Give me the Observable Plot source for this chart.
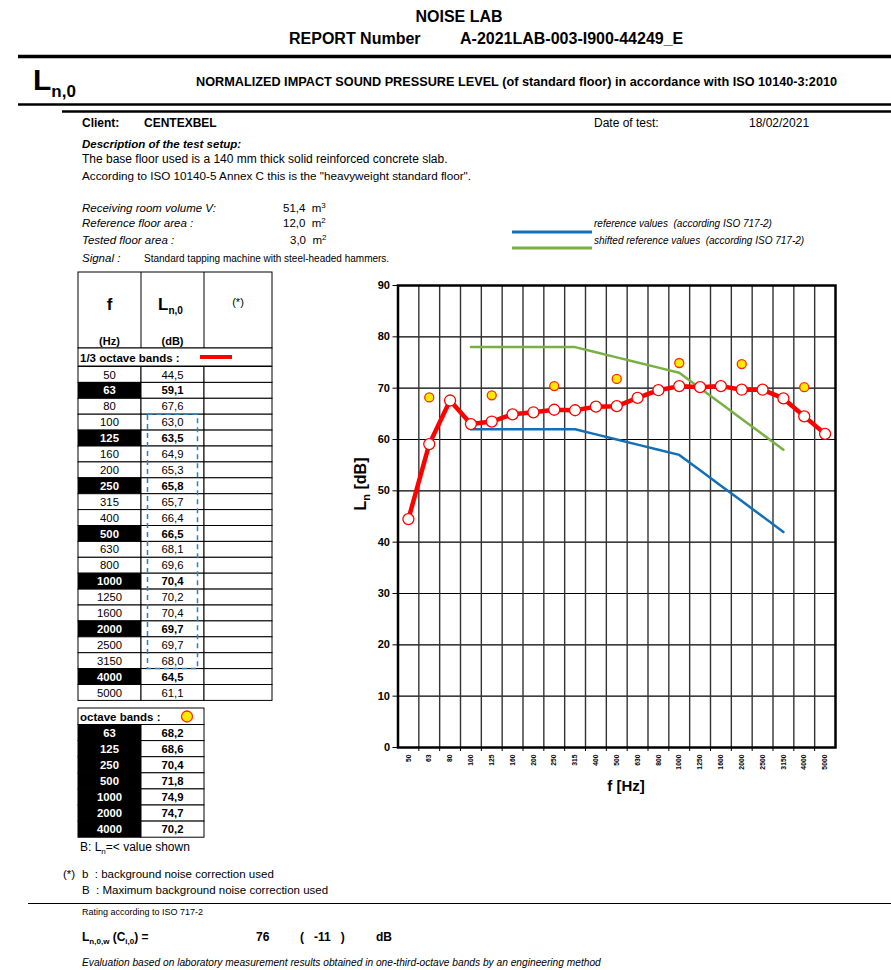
<!DOCTYPE html>
<html><head><meta charset="utf-8">
<script src="https://cdn.jsdelivr.net/npm/d3@7"></script>
<script src="https://cdn.jsdelivr.net/npm/@observablehq/plot@0.6"></script>
<style>
body{margin:0;background:#fff;}
#page{position:relative;width:891px;height:970px;overflow:hidden;background:#fff;}
#page svg text{font-family:"Liberation Sans",Arial,sans-serif;white-space:pre;}
</style></head><body><div id="page"></div>
<script>
// ---------- data ----------
const freqLabels = ["50","63","80","100","125","160","200","250","315","400","500","630","800","1000","1250","1600","2000","2500","3150","4000","5000"];
const lnValues = [44.5,59.1,67.6,63.0,63.5,64.9,65.3,65.8,65.7,66.4,66.5,68.1,69.6,70.4,70.2,70.4,69.7,69.7,68.0,64.5,61.1];
const octaveLabels = ["63","125","250","500","1000","2000","4000"];
const octaveValues = [68.2,68.6,70.4,71.8,74.9,74.7,70.2];
const refLabels = ["100","125","160","200","250","315","400","500","630","800","1000","1250","1600","2000","2500","3150"];
const refValues = [62,62,62,62,62,62,61,60,59,58,57,54,51,48,45,42];
const shiftedValues = [78,78,78,78,78,78,77,76,75,74,73,70,67,64,61,58];
const yTicks = [0,10,20,30,40,50,60,70,80,90];

const fmt = v => v.toFixed(1).replace(".", ",");

// ---------- page layer ----------
const page = d3.select("#page");
const svg = page.append("svg").attr("width", 891).attr("height", 970)
  .style("position","absolute").style("left","0px").style("top","0px");

function txt(x, y, parts, o = {}) {
  const t = svg.append("text").attr("x", x).attr("y", y)
    .attr("xml:space", "preserve")
    .attr("font-size", o.size || 12)
    .attr("font-weight", o.bold ? "bold" : "normal")
    .attr("font-style", o.italic ? "italic" : "normal")
    .attr("text-anchor", o.anchor || "start")
    .attr("fill", o.fill || "#000");
  if (o.rotate) t.attr("transform", `rotate(${o.rotate},${x},${y})`);
  if (typeof parts === "string") parts = [parts];
  let shift = 0;
  parts.forEach(p => {
    if (typeof p === "string") {
      const s = t.append("tspan").text(p);
      if (shift) { s.attr("dy", -shift); shift = 0; }
    } else {
      const d = p.dy - shift;
      t.append("tspan").attr("font-size", p.size).attr("dy", d).text(p.t);
      shift = p.dy;
    }
  });
  return t;
}
function line(x1, y1, x2, y2, w = 1, c = "#000", dash = null) {
  const l = svg.append("line").attr("x1", x1).attr("y1", y1).attr("x2", x2).attr("y2", y2)
    .attr("stroke", c).attr("stroke-width", w);
  if (dash) l.attr("stroke-dasharray", dash);
  return l;
}
function rect(x, y, w, h, fill, stroke = "#000", sw = 1) {
  return svg.append("rect").attr("x", x).attr("y", y).attr("width", w).attr("height", h)
    .attr("fill", fill).attr("stroke", stroke).attr("stroke-width", sw);
}

// header
txt(459, 22, "NOISE LAB", {bold: true, size: 16, anchor: "middle"});
txt(289, 44, "REPORT Number", {bold: true, size: 16});
txt(460, 44, "A-2021LAB-003-I900-44249_E", {bold: true, size: 16});
line(18, 56.5, 891, 56.5, 3.5);
txt(33, 90, ["L", {t: "n,0", size: 17, dy: 7}], {bold: true, size: 30});
txt(196, 86, "NORMALIZED IMPACT SOUND PRESSURE LEVEL (of standard floor) in accordance with ISO 10140-3:2010", {bold: true, size: 12.7});
line(18, 104.5, 891, 104.5, 2.5);
line(62, 111.5, 891, 111.5, 2.5);

// client block
txt(82, 127, "Client:", {bold: true, size: 12});
txt(144, 127, "CENTEXBEL", {bold: true, size: 12});
txt(594, 127, "Date of test:", {size: 12});
txt(749, 127, "18/02/2021", {size: 12});
txt(82, 148, "Description of the test setup:", {bold: true, italic: true, size: 11.5});
txt(82, 163, "The base floor used is a 140 mm thick solid reinforced concrete slab.", {size: 12});
txt(82, 180, "According to ISO 10140-5 Annex C this is the \"heavyweight standard floor\".", {size: 11.7});
txt(82, 212, "Receiving room volume V:", {italic: true, size: 11.5});
txt(283, 212, ["51,4  m", {t: "3", size: 8, dy: -4}], {size: 11.5});
txt(82, 227, "Reference floor area :", {italic: true, size: 11.5});
txt(283, 227, ["12,0  m", {t: "2", size: 8, dy: -4}], {size: 11.5});
txt(82, 244, "Tested floor area :", {italic: true, size: 11.5});
txt(290, 244, ["3,0  m", {t: "2", size: 8, dy: -4}], {size: 11.5});
txt(82, 262, "Signal :", {italic: true, size: 11.5});
txt(144, 262, "Standard tapping machine with steel-headed hammers.", {size: 10});

// legend
line(512, 232, 592, 232, 3, "#1170b8");
line(512, 248, 592, 248, 3, "#78b044");
txt(594, 227, "reference values  (according ISO 717-2)", {italic: true, size: 10});
txt(594, 244, "shifted reference values  (according ISO 717-2)", {italic: true, size: 10});

// ---------- table (1/3 octave) ----------
const cx = [78, 141, 204, 272];
const c1 = (cx[0] + cx[1]) / 2, c2 = (cx[1] + cx[2]) / 2, c3 = (cx[2] + cx[3]) / 2;
rect(cx[0], 272, cx[3] - cx[0], 76, "#fff");
line(cx[1], 272, cx[1], 348); line(cx[2], 272, cx[2], 348);
txt(c1, 310, "f", {bold: true, size: 17, anchor: "middle"});
txt(c2 - 2, 310, ["L", {t: "n,0", size: 10, dy: 4}], {bold: true, size: 17, anchor: "middle"});
txt(c3, 306, "(*)", {size: 11, anchor: "middle"});
txt(c1, 345, "(Hz)", {bold: true, size: 11, anchor: "middle"});
txt(c2, 345, "(dB)", {bold: true, size: 11, anchor: "middle"});
rect(cx[0], 348, cx[3] - cx[0], 18, "#fff");
txt(80, 361.5, "1/3 octave bands :", {bold: true, size: 11.5});
line(200, 357, 232, 357, 4, "#ff0000");

const rowTop = 366.5, rowH = 15.9;
freqLabels.forEach((f, i) => {
  const y0 = rowTop + rowH * i;
  const oct = octaveLabels.includes(f);
  rect(cx[0], y0, cx[1] - cx[0], rowH, oct ? "#000" : "#fff");
  rect(cx[1], y0, cx[2] - cx[1], rowH, "#fff");
  rect(cx[2], y0, cx[3] - cx[2], rowH, "#fff");
  txt(c1, y0 + 12, f, {size: 11.3, bold: oct, anchor: "middle", fill: oct ? "#fff" : "#000"});
  txt(c2, y0 + 12, fmt(lnValues[i]), {size: 11.3, bold: oct, anchor: "middle"});
});
// dashed box 100..3150
{
  const a = freqLabels.indexOf("100"), b = freqLabels.indexOf("3150");
  svg.append("rect").attr("x", 147.5).attr("y", rowTop + rowH * a)
    .attr("width", 50).attr("height", rowH * (b - a + 1))
    .attr("fill", "none").attr("stroke", "#2a82c4").attr("stroke-width", 1.5)
    .attr("stroke-dasharray", "5,4");
}

// ---------- octave table ----------
const oTop = 708, oHead = 16.5, oRow = 16.1;
rect(cx[0], oTop, cx[2] - cx[0], oHead, "#fff");
txt(80, oTop + 12.5, "octave bands :", {bold: true, size: 11.5});
svg.append("circle").attr("cx", 187).attr("cy", oTop + 8.5).attr("r", 5.5)
  .attr("fill", "#ffea00").attr("stroke", "#ff2a00").attr("stroke-width", 1.3);
octaveLabels.forEach((f, k) => {
  const y0 = oTop + oHead + oRow * k;
  rect(cx[0], y0, cx[1] - cx[0], oRow, "#000");
  rect(cx[1], y0, cx[2] - cx[1], oRow, "#fff");
  txt(c1, y0 + 12, f, {size: 11.3, bold: true, anchor: "middle", fill: "#fff"});
  txt(c2, y0 + 12, fmt(octaveValues[k]), {size: 11.3, bold: true, anchor: "middle"});
});
txt(80, 851, ["B: L", {t: "n", size: 8, dy: 3}, "=< value shown"], {size: 12});

// ---------- bottom ----------
txt(63, 878, "(*)", {size: 11.5});
txt(82, 878, "b  : background noise correction used", {size: 11.5});
txt(82, 894, "B  : Maximum background noise correction used", {size: 11.5});
line(28, 903.5, 891, 903.5, 1);
txt(82, 915, "Rating according to ISO 717-2", {size: 9});
txt(82, 941, ["L", {t: "n,0,w", size: 8, dy: 3}, " (C", {t: "i,0", size: 8, dy: 3}, ") ="], {bold: true, size: 12});
txt(256, 941, "76", {bold: true, size: 12});
txt(300, 941, "(   -11   )", {bold: true, size: 12});
txt(376, 941, "dB", {bold: true, size: 12});
txt(82, 966, "Evaluation based on laboratory measurement results obtained in one-third-octave bands by an engineering method", {italic: true, size: 10.2});

// axis titles
txt(366, 484, ["L", {t: "n", size: 11, dy: 4}, " [dB]"], {bold: true, size: 16, anchor: "middle", rotate: -90});
txt(626, 791, "f [Hz]", {bold: true, size: 15, anchor: "middle"});

// ---------- chart ----------
const idx = freqLabels.map((_, i) => i);
const third = freqLabels.map((f, i) => ({i, v: lnValues[i]}));
const octPts = octaveLabels.map((f, k) => ({i: freqLabels.indexOf(f), v: octaveValues[k]}));
const refPts = refLabels.map((f, k) => ({i: freqLabels.indexOf(f), v: refValues[k]}));
const shPts = refLabels.map((f, k) => ({i: freqLabels.indexOf(f), v: shiftedValues[k]}));
const bounds = idx.slice(1).map(i => i - 0.5);

const chart = Plot.plot({
  width: 520, height: 540,
  marginLeft: 67.5, marginRight: 15, marginTop: 15, marginBottom: 63,
  style: {fontFamily: "Liberation Sans, Arial, sans-serif", background: "transparent", overflow: "visible", color: "#000"},
  x: {type: "linear", domain: [-0.5, freqLabels.length - 0.5]},
  y: {domain: [0, 90]},
  marks: [
    Plot.ruleY(yTicks.slice(1, -1), {stroke: "#000", strokeWidth: 1.2}),
    Plot.ruleX(bounds, {stroke: "#333", strokeWidth: 1.4}),
    Plot.axisX({ticks: bounds, tickSize: 4, tickFormat: () => "", label: null}),
    Plot.axisX({ticks: idx, tickSize: 0, tickPadding: 7, tickRotate: -90, tickFormat: i => freqLabels[i], fontSize: 6.8, fontWeight: "bold", label: null}),
    Plot.axisY({ticks: yTicks, tickSize: 5, tickPadding: 3, fontSize: 11, fontWeight: "bold", label: null}),
    Plot.line(refPts, {x: "i", y: "v", stroke: "#1170b8", strokeWidth: 2.5}),
    Plot.line(shPts, {x: "i", y: "v", stroke: "#78b044", strokeWidth: 2.5}),
    Plot.line(third, {x: "i", y: "v", stroke: "#ff0000", strokeWidth: 4.5}),
    Plot.dot(third, {x: "i", y: "v", r: 5.5, fill: "#fff", stroke: "#ff0000", strokeWidth: 1.3}),
    Plot.dot(octPts, {x: "i", y: "v", r: 4.5, fill: "#ffea00", stroke: "#ff2a00", strokeWidth: 1.3}),
    Plot.frame({stroke: "#000", strokeWidth: 2.5})
  ]
});
chart.style.position = "absolute";
chart.style.left = "330px";
chart.style.top = "270px";
document.getElementById("page").appendChild(chart);
</script></body></html>
